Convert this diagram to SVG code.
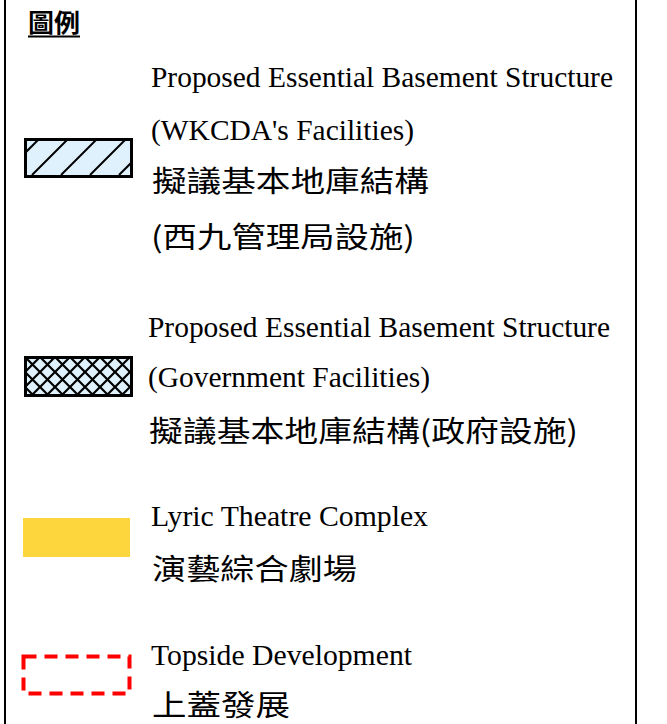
<svg xmlns="http://www.w3.org/2000/svg" width="667" height="724" viewBox="0 0 667 724">
<style>
.lat{font-family:"Liberation Serif","Times New Roman",serif;font-size:30px;fill:#000}
.cjk{font-family:"Noto Sans CJK TC","Noto Sans CJK SC",sans-serif;font-size:29px;fill:#000}
.ttl{font-family:"Noto Sans CJK TC","Noto Sans CJK SC",sans-serif;font-size:25px;font-weight:bold;fill:#000}
.box{fill:#dff1fc;stroke:#000;stroke-width:3}
.hatch{stroke:#000;stroke-width:2;fill:none}
</style>
<defs>
<clipPath id="c1"><rect x="26" y="140" width="105" height="35"/></clipPath>
<pattern id="xh" x="25" y="357" width="15" height="15" patternUnits="userSpaceOnUse">
<path d="M-3,-3 L18,18 M18,-3 L-3,18" stroke="#000" stroke-width="2.2" fill="none"/>
</pattern>
</defs>
<rect x="0" y="0" width="667" height="724" fill="#fff"/>
<g id="frame">
<line x1="5" y1="0" x2="5" y2="724" stroke="#000" stroke-width="2"/>
<line x1="636" y1="0" x2="636" y2="724" stroke="#000" stroke-width="2"/>
</g>
<g id="title">
<text class="ttl" x="28" y="32" textLength="52" lengthAdjust="spacingAndGlyphs">圖例</text>
<line x1="28" y1="36.5" x2="80" y2="36.5" stroke="#000" stroke-width="2"/>
</g>
<g id="item-wkcda">
<rect class="box" x="25.5" y="139.5" width="106" height="37"/>
<g clip-path="url(#c1)" class="hatch">
<line x1="3" y1="175" x2="38" y2="140"/>
<line x1="32" y1="175" x2="67" y2="140"/>
<line x1="61" y1="175" x2="96" y2="140"/>
<line x1="90" y1="175" x2="125" y2="140"/>
<line x1="119" y1="175" x2="154" y2="140"/>
</g>
<rect x="25.5" y="139.5" width="106" height="37" fill="none" stroke="#000" stroke-width="3"/>
<text class="lat" x="151" y="87" textLength="462" lengthAdjust="spacingAndGlyphs">Proposed Essential Basement Structure</text>
<text class="lat" x="151" y="140" textLength="263" lengthAdjust="spacingAndGlyphs">(WKCDA's Facilities)</text>
<text class="cjk" x="152" y="192" textLength="277" lengthAdjust="spacingAndGlyphs">擬議基本地庫結構</text>
<text class="cjk" x="151" y="248" textLength="264" lengthAdjust="spacingAndGlyphs">(西九管理局設施)</text>
</g>
<g id="item-government">
<rect x="25.5" y="357.5" width="106" height="38" fill="#dff1fc"/>
<rect x="25.5" y="357.5" width="106" height="38" fill="url(#xh)"/>
<rect x="25.5" y="357.5" width="106" height="38" fill="none" stroke="#000" stroke-width="3"/>
<text class="lat" x="148" y="337" textLength="462" lengthAdjust="spacingAndGlyphs">Proposed Essential Basement Structure</text>
<text class="lat" x="148" y="387" textLength="282" lengthAdjust="spacingAndGlyphs">(Government Facilities)</text>
<text class="cjk" x="149" y="442" textLength="429" lengthAdjust="spacingAndGlyphs">擬議基本地庫結構(政府設施)</text>
</g>
<g id="item-lyric">
<rect x="23" y="518" width="107" height="39" fill="#fdd53d"/>
<text class="lat" x="151" y="526" textLength="277" lengthAdjust="spacingAndGlyphs">Lyric Theatre Complex</text>
<text class="cjk" x="152" y="580" textLength="205" lengthAdjust="spacingAndGlyphs">演藝綜合劇場</text>
</g>
<g id="item-topside">
<rect x="23.5" y="656.5" width="106" height="37" fill="none" stroke="#ff0000" stroke-width="4" stroke-dasharray="13 8"/>
<text class="lat" x="151" y="665" textLength="261" lengthAdjust="spacingAndGlyphs">Topside Development</text>
<text class="cjk" x="152" y="716" textLength="138" lengthAdjust="spacingAndGlyphs">上蓋發展</text>
</g>
</svg>
